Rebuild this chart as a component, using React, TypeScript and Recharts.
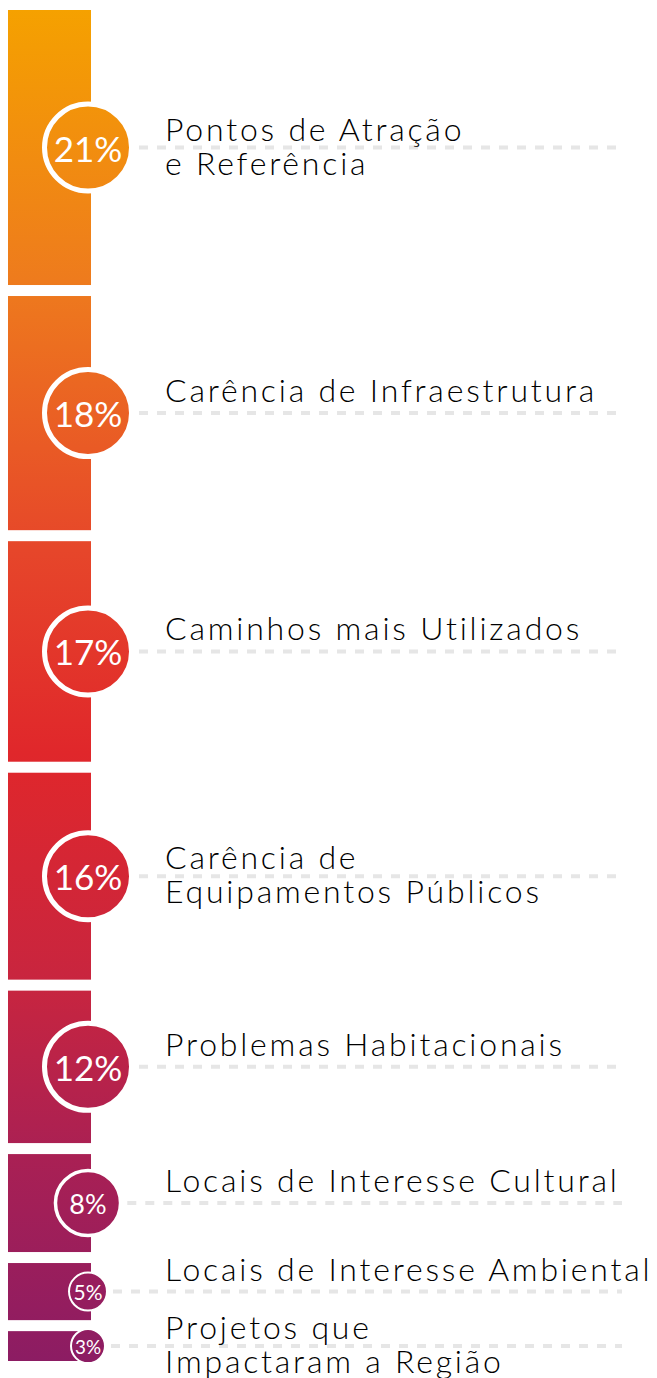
import React from 'react';
import { BarChart, Bar, XAxis, YAxis } from 'recharts';

const categories = [
  'Pontos de Atração\ne Referência',
  'Carência de Infraestrutura',
  'Caminhos mais Utilizados',
  'Carência de\nEquipamentos Públicos',
  'Problemas Habitacionais',
  'Locais de Interesse Cultural',
  'Locais de Interesse Ambiental',
  'Projetos que\nImpactaram a Região',
];

const shares = [21, 18, 17, 16, 12, 8, 5, 3];

const keys = shares.map((_, i) => `s${i}`);

const data = [
  keys.reduce((row: Record<string, number | string>, k, i) => {
    row[k] = shares[i];
    return row;
  }, { name: 'total' }),
];

const GAP = 11;
const LABEL_X = 165;
const LINE_END = 622;
const FONT = 'Lato, "Open Sans", sans-serif';

const Segment = (props: any) => {
  const { x, y, width, height, idx } = props;
  const top = Math.min(y, y + height);
  const h = Math.abs(height);
  const barH = h - GAP;
  const cy = top + barH / 2;
  const cx = x + width - 3;
  const r = Math.min(46, Math.max(18, barH * 0.35));
  const sw = r > 40 ? 5 : r > 25 ? 3.5 : 2;
  const lines = categories[idx].split('\n');
  const fontSize = r > 40 ? 35 : r > 25 ? 27 : r * 1.05;

  return (
    <g>
      <rect x={x} y={top} width={width} height={barH} fill="url(#barGrad)" />
      <line
        x1={cx + r + 5}
        x2={LINE_END}
        y1={cy}
        y2={cy}
        stroke="#E6E6E6"
        strokeWidth={4}
        strokeDasharray="9 9"
      />
      <circle cx={cx} cy={cy} r={r - sw / 2} fill="url(#barGrad)" stroke="#fff" strokeWidth={sw} />
      <text
        x={cx}
        y={cy}
        textAnchor="middle"
        dominantBaseline="central"
        fill="#fff"
        fontFamily={FONT}
        fontSize={fontSize}
      >
        {`${shares[idx]}%`}
      </text>
      {lines.length === 1 ? (
        <text x={LABEL_X} y={cy - 11} fontFamily={FONT} fontWeight={300} fontSize={32} fill="#000" letterSpacing={2.8}>
          {lines[0]}
        </text>
      ) : (
        <text x={LABEL_X} y={cy - 7} fontFamily={FONT} fontWeight={300} fontSize={32} fill="#000" letterSpacing={2.8}>
          <tspan x={LABEL_X}>{lines[0]}</tspan>
          <tspan x={LABEL_X} dy={34}>{lines[1]}</tspan>
        </text>
      )}
    </g>
  );
};

export default function App() {
  return (
    <div style={{ position: 'absolute', top: 0, left: 0, width: 657, height: 1378, background: '#fff' }}>
      <BarChart
        width={657}
        height={1378}
        data={data}
        margin={{ top: 10, right: 566, left: 8, bottom: 6 }}
        barCategoryGap={0}
      >
        <defs>
          <linearGradient id="barGrad" gradientUnits="userSpaceOnUse" x1={0} y1={10} x2={0} y2={1361}>
            <stop offset="0" stopColor="#F5A100" />
            <stop offset="0.2" stopColor="#EE7B1D" />
            <stop offset="0.4" stopColor="#E6462A" />
            <stop offset="0.55" stopColor="#E0272B" />
            <stop offset="0.72" stopColor="#C8253F" />
            <stop offset="0.85" stopColor="#A92054" />
            <stop offset="1" stopColor="#8C1C63" />
          </linearGradient>
        </defs>
        <XAxis dataKey="name" hide />
        <YAxis type="number" domain={[0, 100]} reversed hide />
        {keys.map((k, i) => (
          <Bar
            key={k}
            dataKey={k}
            stackId="a"
            isAnimationActive={false}
            shape={(p: any) => <Segment {...p} idx={i} />}
          />
        ))}
      </BarChart>
    </div>
  );
}
